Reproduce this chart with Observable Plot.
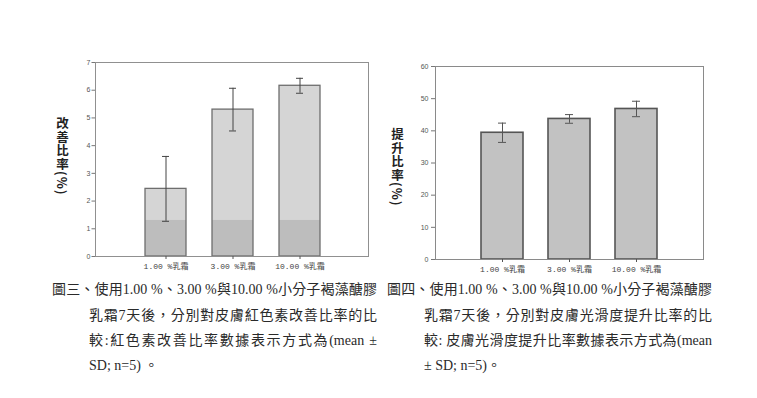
<!DOCTYPE html>
<html>
<head>
<meta charset="utf-8">
<script src="https://cdn.jsdelivr.net/npm/d3@7"></script>
<script src="https://cdn.jsdelivr.net/npm/@observablehq/plot@0.6"></script>
<style>
  html, body { margin: 0; padding: 0; background: #fff; }
  #page { position: relative; width: 757px; height: 398px; overflow: hidden; background: #fff; }
  .chart { position: absolute; }
  .ylab { position: absolute; writing-mode: vertical-rl; text-orientation: mixed;
          font-family: "Noto Sans CJK TC", "DejaVu Sans", sans-serif; font-weight: 700; font-size: 12.5px;
          letter-spacing: 1px; color: #222; line-height: 14px; transform: translateX(-50%); white-space: nowrap; }
  .cap { position: absolute; font-family: "Liberation Serif", "Noto Sans CJK TC", serif;
         font-size: 14px; line-height: 25px; height: 25px; color: #2a2a2a; white-space: nowrap; }
  .just { text-align: justify; text-align-last: justify; white-space: normal; }
</style>
</head>
<body>
<div id="page"></div>
<script>
// ---- data ----
const categories = ["1.00 %乳霜", "3.00 %乳霜", "10.00 %乳霜"];

// Figure 3: erythema (redness) improvement ratio (%)
const rednessMean = [2.44, 5.30, 6.16];
const rednessSD   = [1.17, 0.77, 0.27];
const rednessBand = [1.3, 1.3, 1.3];   // darker lower band visible in the scanned bars
const rednessTicks = [0, 1, 2, 3, 4, 5, 6, 7];

// Figure 4: smoothness improvement ratio (%)
const smoothMean = [39.4, 43.7, 46.8];
const smoothSD   = [3.0, 1.35, 2.4];
const smoothTicks = [0, 10, 20, 30, 40, 50, 60];

const yTitle3 = "改善比率(%)";
const yTitle4 = "提升比率(%)";

const caption3 = [
  "圖三、使用1.00 %、3.00 %與10.00 %小分子褐藻醣膠",
  "乳霜7天後，分別對皮膚紅色素改善比率的比",
  "較:紅色素改善比率數據表示方式為(mean ±",
  "SD; n=5) 。"
];
const caption4 = [
  "圖四、使用1.00 %、3.00 %與10.00 %小分子褐藻醣膠",
  "乳霜7天後，分別對皮膚光滑度提升比率的比",
  "較: 皮膚光滑度提升比率數據表示方式為(mean",
  "± SD; n=5)。"
];

const page = document.getElementById("page");

const t1 = categories.map((c, i) => ({cat: c, mean: rednessMean[i], sd: rednessSD[i], band: rednessBand[i]}));
const t2 = categories.map((c, i) => ({cat: c, mean: smoothMean[i], sd: smoothSD[i]}));

const xFont = "'Liberation Mono', 'Noto Sans CJK TC', monospace";
const yFont = "'Liberation Sans', sans-serif";

// ---- chart 1 ----
const c1 = Plot.plot({
  width: 345, height: 230,
  marginLeft: 65, marginTop: 12, marginBottom: 24, marginRight: 7,
  style: {background: "#fff", color: "#555", overflow: "visible"},
  x: {domain: categories, paddingInner: 0.39, paddingOuter: 0, insetLeft: 49, insetRight: 47.5, label: null},
  y: {domain: [0, 7], label: null},
  marks: [
    Plot.barY(t1, {x: "cat", y: "mean", fill: "#d5d5d5"}),
    Plot.barY(t1, {x: "cat", y: "band", fill: "#bdbdbd"}),
    Plot.barY(t1, {x: "cat", y: "mean", fill: "none", stroke: "#6e6e6e", strokeWidth: 1.3}),
    Plot.ruleX(t1, {x: "cat", y1: d => d.mean - d.sd, y2: d => d.mean + d.sd, stroke: "#444", strokeWidth: 1}),
    Plot.tickY(t1, {x: "cat", y: d => d.mean + d.sd, insetLeft: 17, insetRight: 17, stroke: "#444", strokeWidth: 1}),
    Plot.tickY(t1, {x: "cat", y: d => d.mean - d.sd, insetLeft: 17, insetRight: 17, stroke: "#444", strokeWidth: 1}),
    Plot.frame({stroke: "#909090", strokeWidth: 1}),
    Plot.axisY({ticks: rednessTicks, tickFormat: d3.format("d"), tickSize: 3.5, tickPadding: 1.5, fontSize: 7, fontFamily: yFont, label: null, stroke: "#777", fill: "#555"}),
    Plot.axisX({tickSize: 3, tickPadding: 4, fontSize: 8, fontFamily: xFont, label: null, stroke: "#555", fill: "#444"})
  ]
});
c1.classList.add("chart");
c1.style.left = "30px"; c1.style.top = "50px";
page.appendChild(c1);

// ---- chart 2 ----
const c2 = Plot.plot({
  width: 340, height: 230,
  marginLeft: 55, marginTop: 16, marginBottom: 21, marginRight: 17,
  style: {background: "#fff", color: "#555", overflow: "visible"},
  x: {domain: categories, paddingInner: 0.38, paddingOuter: 0, insetLeft: 46, insetRight: 46, label: null},
  y: {domain: [0, 60], label: null},
  marks: [
    Plot.barY(t2, {x: "cat", y: "mean", fill: "#c2c2c2", stroke: "#555", strokeWidth: 1.6}),
    Plot.ruleX(t2, {x: "cat", y1: d => d.mean - d.sd, y2: d => d.mean + d.sd, stroke: "#555", strokeWidth: 1}),
    Plot.tickY(t2, {x: "cat", y: d => d.mean + d.sd, insetLeft: 17, insetRight: 17, stroke: "#555", strokeWidth: 1}),
    Plot.tickY(t2, {x: "cat", y: d => d.mean - d.sd, insetLeft: 17, insetRight: 17, stroke: "#555", strokeWidth: 1}),
    Plot.frame({stroke: "#8a8a8a", strokeWidth: 1}),
    Plot.axisY({ticks: smoothTicks, tickFormat: d3.format("d"), tickSize: 4, tickPadding: 3, fontSize: 7, fontFamily: yFont, label: null, stroke: "#777", fill: "#555"}),
    Plot.axisX({tickSize: 3, tickPadding: 4, fontSize: 8, fontFamily: xFont, label: null, stroke: "#555", fill: "#444"})
  ]
});
c2.classList.add("chart");
c2.style.left = "380px"; c2.style.top = "50px";
page.appendChild(c2);

// ---- y-axis titles (vertical, CJK upright, unit rotated) ----
function ylab(text, x, y) {
  const d = document.createElement("div");
  d.className = "ylab";
  d.textContent = text;
  d.style.left = x + "px"; d.style.top = y + "px";
  page.appendChild(d);
}
ylab(yTitle3, 62, 117);
ylab(yTitle4, 397, 128);

// ---- captions ----
function caption(lines, x0, x1, right) {
  const tops = [277, 303, 328, 353];
  lines.forEach((s, i) => {
    const d = document.createElement("div");
    d.className = "cap" + (i < 3 ? " just" : "");
    d.textContent = s;
    const left = i === 0 ? x0 : x1;
    d.style.left = left + "px";
    d.style.top = tops[i] + "px";
    if (i < 3) d.style.width = (right - left) + "px";
    page.appendChild(d);
  });
}
caption(caption3, 52, 89, 377);
caption(caption4, 387, 424, 712);
</script>
</body>
</html>
